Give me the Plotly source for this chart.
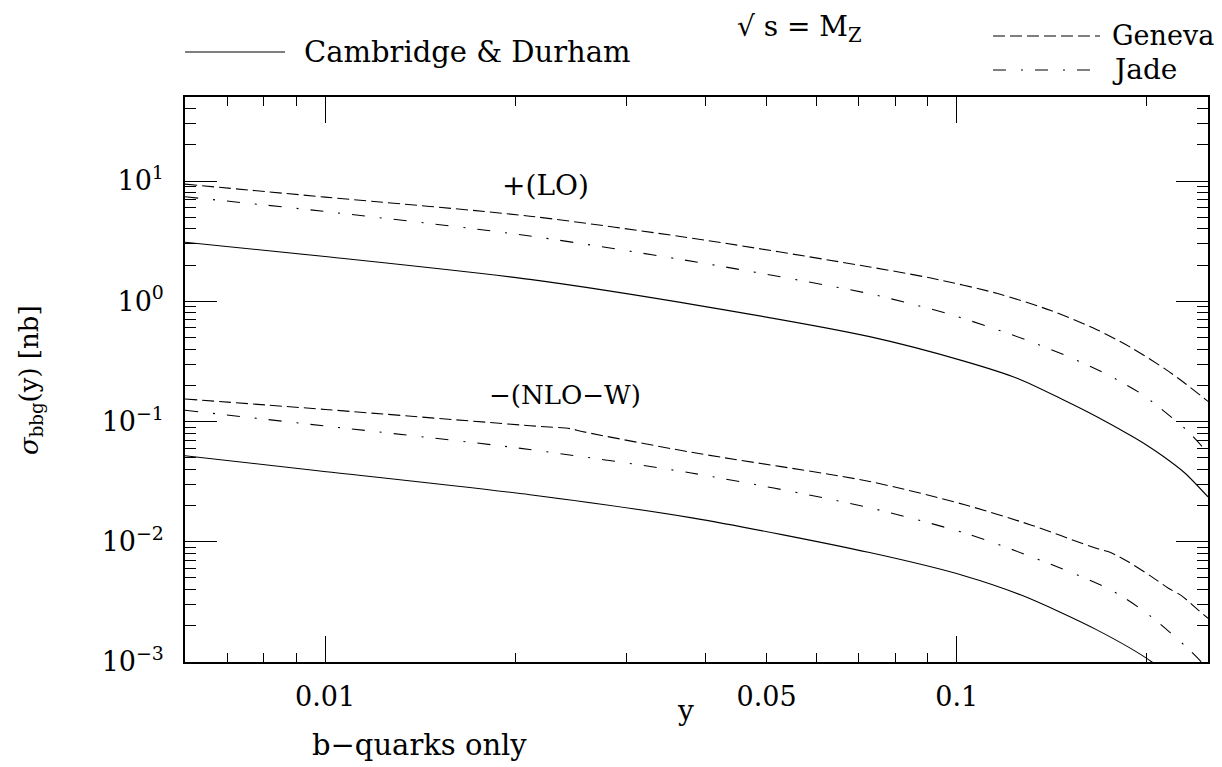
import plotly.graph_objects as go
import numpy as np

# ---- data ----
lo_geneva_x = [0.006, 0.01, 0.0211, 0.04, 0.0717, 0.091, 0.1161, 0.141, 0.1667, 0.1889, 0.2134, 0.2295, 0.25]
lo_geneva_y = [9.42, 7.35, 5.10, 3.22, 1.956, 1.56, 1.160, 0.837, 0.581, 0.4116, 0.2753, 0.2092, 0.147]

lo_jade_x = [0.006, 0.01, 0.0211, 0.04, 0.0717, 0.0836, 0.0967, 0.1118, 0.1293, 0.1486, 0.170, 0.196, 0.22, 0.2325, 0.25]
lo_jade_y = [7.40, 5.58, 3.49, 2.06, 1.175, 0.969, 0.79, 0.619, 0.474, 0.355, 0.258, 0.170, 0.106, 0.0827, 0.0547]

lo_cd_x = [0.006, 0.01, 0.0211, 0.04, 0.0728, 0.1027, 0.1249, 0.1477, 0.1667, 0.1889, 0.2, 0.2128, 0.2295, 0.25]
lo_cd_y = [3.10, 2.356, 1.52, 0.903, 0.508, 0.318, 0.228, 0.151, 0.1096, 0.0761, 0.0635, 0.0509, 0.0375, 0.0236]

nlo_geneva_x = [0.006, 0.01, 0.0211, 0.0245, 0.0255, 0.038, 0.0728, 0.103, 0.131, 0.1667, 0.1753, 0.1866, 0.2035, 0.2164, 0.2272, 0.2411, 0.25]
nlo_geneva_y = [0.154, 0.126, 0.0923, 0.087, 0.0827, 0.0555, 0.0317, 0.0203, 0.0138, 0.00878, 0.00813, 0.00684, 0.00513, 0.00411, 0.00355, 0.00271, 0.00231]

nlo_jade_x = [0.006, 0.01, 0.0202, 0.038, 0.0715, 0.103, 0.131, 0.1753, 0.2, 0.229, 0.244, 0.25]
nlo_jade_y = [0.124, 0.0918, 0.0602, 0.0373, 0.0196, 0.0118, 0.00753, 0.00398, 0.00254, 0.00139, 0.0010, 0.00085]

nlo_cd_x = [0.006, 0.00974, 0.0211, 0.0381, 0.0728, 0.103, 0.1265, 0.1667, 0.2038, 0.2197]
nlo_cd_y = [0.0519, 0.0390, 0.0246, 0.0158, 0.00813, 0.0052, 0.0036, 0.00185, 0.0010, 0.00071]

x_label_vals = [0.01, 0.05, 0.1]
x_label_text = ["0.01", "0.05", "0.1"]
x_major_ticks = [0.01, 0.1]
x_minor_ticks = [0.007, 0.008, 0.009, 0.02, 0.03, 0.04, 0.05, 0.06, 0.07, 0.08, 0.09, 0.2]
y_major_ticks = [1e-3, 1e-2, 1e-1, 1, 10]
y_major_text = ["10<sup>−3</sup>", "10<sup>−2</sup>", "10<sup>−1</sup>", "10<sup>0</sup>", "10<sup>1</sup>"]
y_minor_ticks = [m * 10.0 ** e for e in range(-3, 2) for m in range(2, 10) if m * 10.0 ** e < 50]

X_RANGE = [np.log10(0.006), np.log10(0.25)]
Y_RANGE = [np.log10(1e-3), np.log10(50)]

FONT = "DejaVu Serif"
DASH = "12px,5px"
DASHDOT = "13px,15px,2px,12px"
LW = 1.1

fig = go.Figure()
series = [
    (lo_geneva_x, lo_geneva_y, DASH),
    (lo_jade_x, lo_jade_y, DASHDOT),
    (lo_cd_x, lo_cd_y, "solid"),
    (nlo_geneva_x, nlo_geneva_y, DASH),
    (nlo_jade_x, nlo_jade_y, DASHDOT),
    (nlo_cd_x, nlo_cd_y, "solid"),
]
for xs, ys, d in series:
    fig.add_trace(go.Scatter(x=xs, y=ys, mode="lines", showlegend=False,
                             line=dict(color="black", width=LW, dash=d, shape="spline", smoothing=0.8)))

# invisible trace on the overlay axes so their ticks render
fig.add_trace(go.Scatter(x=[0.01], y=[1], xaxis="x2", yaxis="y2", mode="markers",
                         marker=dict(opacity=0), showlegend=False, hoverinfo="skip"))

tickfont = dict(family=FONT, size=27, color="black")

fig.update_layout(
    width=1222, height=767,
    margin=dict(l=185, r=14, t=97, b=105, pad=0),
    plot_bgcolor="white", paper_bgcolor="white",
    xaxis=dict(type="log", range=X_RANGE, tickmode="array", tickvals=x_label_vals,
               ticktext=x_label_text, ticks="", showgrid=False, zeroline=False,
               showline=True, linecolor="black", linewidth=1.5, mirror=True,
               tickfont=tickfont, ticklabelstandoff=10),
    yaxis=dict(type="log", range=Y_RANGE, tickmode="array", tickvals=y_major_ticks,
               ticktext=y_major_text, ticks="inside", ticklen=32, tickwidth=1.2,
               tickcolor="black", showgrid=False, zeroline=False,
               showline=True, linecolor="black", linewidth=1.5, mirror="allticks",
               minor=dict(tickmode="array", tickvals=y_minor_ticks, ticks="inside",
                          ticklen=11, tickwidth=1.0, tickcolor="black", showgrid=False),
               tickfont=tickfont, ticklabelstandoff=14),
    xaxis2=dict(type="log", range=X_RANGE, overlaying="x", anchor="y", side="bottom",
                tickmode="array", tickvals=x_major_ticks, showticklabels=False,
                ticks="inside", ticklen=26, tickwidth=1.2, tickcolor="black",
                showgrid=False, zeroline=False, showline=False, mirror="allticks",
                minor=dict(tickmode="array", tickvals=x_minor_ticks, ticks="inside",
                           ticklen=9, tickwidth=1.0, tickcolor="black", showgrid=False)),
    yaxis2=dict(type="log", range=Y_RANGE, overlaying="y", anchor="x", side="left",
                showticklabels=False, ticks="", showgrid=False, zeroline=False, showline=False),
)

def note(text, x, y, xanchor="left", yanchor="middle", angle=0, size=28):
    fig.add_annotation(text=text, x=x, y=y, xref="paper", yref="paper", showarrow=False,
                       xanchor=xanchor, yanchor=yanchor, font=dict(family=FONT, size=size, color="black"),
                       textangle=angle)

# legend samples
fig.add_shape(type="line", xref="paper", yref="paper", x0=0.0, x1=0.0978, y0=1.0796, y1=1.0796,
              line=dict(color="black", width=LW))
fig.add_shape(type="line", xref="paper", yref="paper", x0=0.7898, x1=0.8944, y0=1.108, y1=1.108,
              line=dict(color="black", width=LW, dash=DASH))
fig.add_shape(type="line", xref="paper", yref="paper", x0=0.7898, x1=0.8944, y0=1.0478, y1=1.0478,
              line=dict(color="black", width=LW, dash=DASHDOT))

note("Cambridge &amp; Durham", 0.1144, 1.0796, size=29)
note("Geneva", 0.9042, 1.108, size=27)
note("Jade", 0.9042, 1.0478, size=28)
note("√ s = M<sub>Z</sub>", 0.5376, 1.1221, size=28)
note("+(LO)", 0.3079, 0.8442, size=28)
note("−(NLO−W)", 0.2952, 0.4726, size=26)
note("y", 0.4888, -0.085, xanchor="center", size=28)
note("b−quarks only", 0.1222, -0.1469, size=29)
note("<i>σ</i><sub>bbg</sub>(y) [nb]", -0.1515, 0.499, xanchor="center", angle=-90, size=26)

fig.write_html("out.html")
